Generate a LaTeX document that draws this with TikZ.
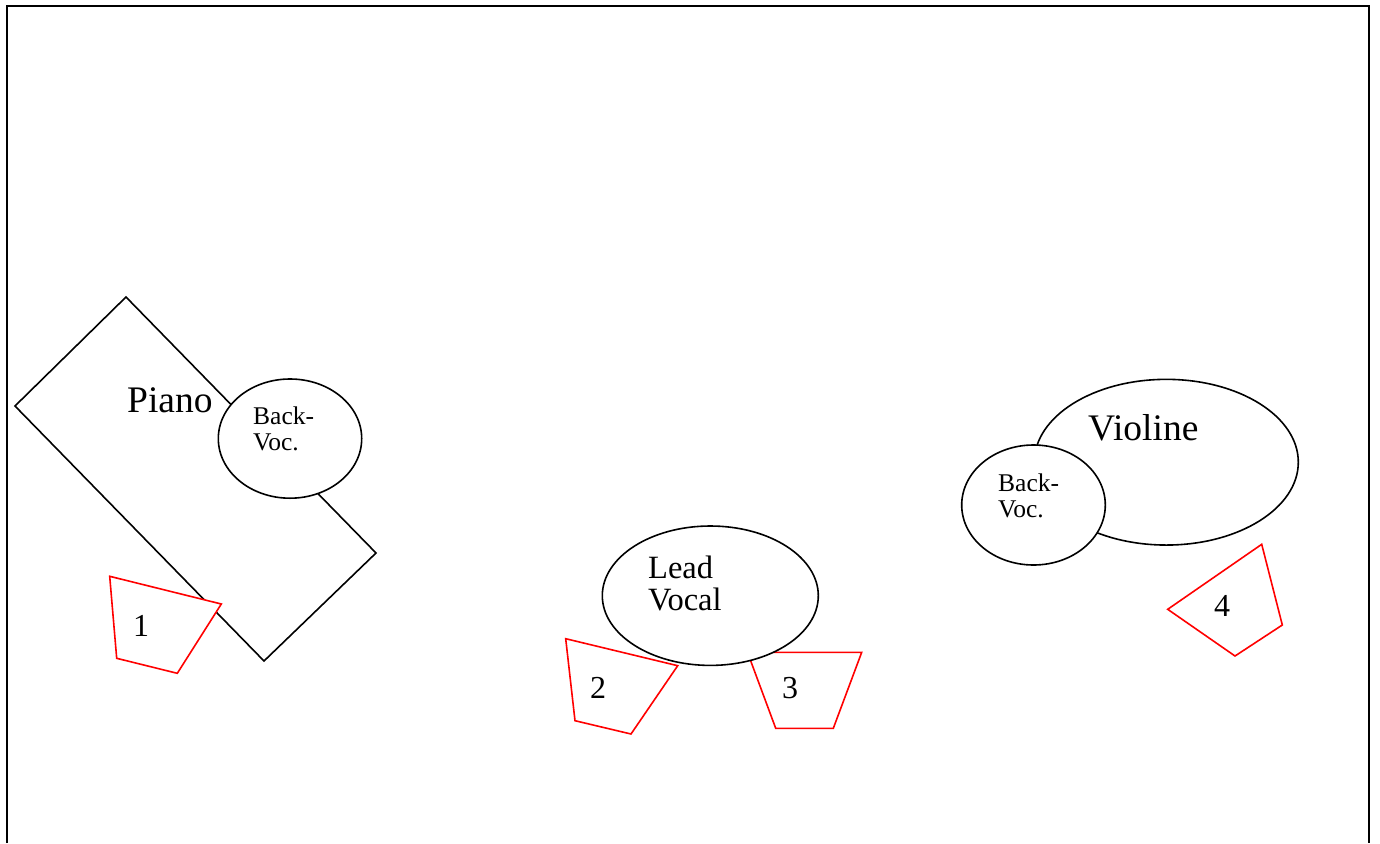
\documentclass[tikz,border=0pt]{standalone}
\usepackage{fontspec}
\setmainfont{Liberation Serif}
\usetikzlibrary{shapes.geometric}
\begin{document}
\begin{tikzpicture}[x=1pt,y=-1pt,
  outline/.style={draw=black, line width=1.6pt, fill=white},
  oval/.style={ellipse, outline, inner sep=0pt},
  mon/.style={draw=red, line width=1.6pt, fill=white, line join=miter},
  bigtext/.style={font=\fontsize{37.5}{40}\selectfont, inner sep=0pt, anchor=base west},
  midtext/.style={font=\fontsize{32.5}{32.7}\selectfont, inner sep=0pt, anchor=base west, align=left},
  smalltext/.style={font=\fontsize{25.5}{26.6}\selectfont, inner sep=0pt, anchor=base west, align=left},
  numtext/.style={font=\fontsize{32}{34}\selectfont, inner sep=0pt, anchor=base}
]
\useasboundingbox (0,0) rectangle (1380,843);
% frame
\draw[line width=2pt] (7,843) -- (7,6) -- (1369,6) -- (1369,843);

% Piano
\draw[outline] (126,297) -- (376,553) -- (264,661) -- (15,406) -- cycle;
\node[bigtext] (piano) at (127,412) {Piano};
\node[oval, minimum width=143.4pt, minimum height=119.2pt] (pbv) at (290,438.6) {};
\node[smalltext] (pbvt) at (253,450.7) {Back-\\Voc.};
\draw[mon] (109.7,576.3) -- (221.3,604) -- (177.3,673.3) -- (116.7,658.3) -- cycle;
\node[numtext] (m1) at (141,636) {1};

% Lead vocal
\draw[mon] (747.5,652.3) -- (861.7,652.3) -- (833.3,728.3) -- (775.7,728.3) -- cycle;
\node[numtext] (m3) at (790,698) {3};
\node[oval, minimum width=216pt, minimum height=139.4pt] (lead) at (710.3,595.7) {};
\node[midtext] (leadt) at (648,610.7) {Lead\\Vocal};
\draw[mon] (565.7,638.7) -- (677.7,665.7) -- (631,734) -- (575,720.7) -- cycle;
\node[numtext] (m2) at (598,698.3) {2};

% Violine
\node[oval, minimum width=264pt, minimum height=165.7pt] (vio) at (1166.3,462.2) {};
\node[bigtext] (viot) at (1088,440) {Violine};
\node[oval, minimum width=143.6pt, minimum height=120pt] (vbv) at (1033.5,505) {};
\node[smalltext] (vbvt) at (998,517.7) {Back-\\Voc.};
\draw[mon] (1167.7,609.3) -- (1261.7,544.3) -- (1282.3,625) -- (1235,656) -- cycle;
\node[numtext] (m4) at (1222,616.7) {4};
\end{tikzpicture}
\end{document}
